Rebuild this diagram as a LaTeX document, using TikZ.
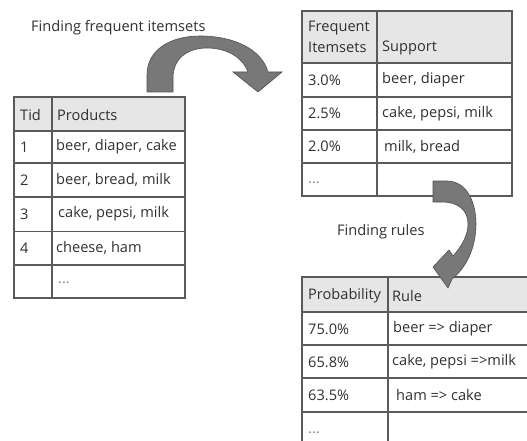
\documentclass[tikz,border=0pt]{standalone}
\usepackage{fontspec}
\setmainfont{Open Sans}
\definecolor{linec}{HTML}{5A5A5A}
\definecolor{headc}{HTML}{E6E6E6}
\definecolor{arrowc}{HTML}{787878}
\definecolor{arrowe}{HTML}{505050}
\definecolor{textc}{HTML}{303030}
\begin{document}
\begin{tikzpicture}[x=1pt,y=-1pt,
  tline/.style={draw=linec,line width=1.2pt},
  hfill/.style={fill=headc},
  txt/.style={anchor=west,inner sep=0pt,text=textc,font=\fontsize{14.6}{16}\selectfont},
  dots/.style={txt,text=gray},
  blockarrow/.style={fill=arrowc,draw=arrowe,line width=0.6pt}]
\useasboundingbox (0,0) rectangle (527,441);
% ---------- left table ----------
\fill[hfill] (14,97) rectangle (185,131);
\draw[tline] (14,97) rectangle (185,298);
\draw[tline] (52,97) -- (52,298);
\foreach \y in {131,163,197,231.5,265} \draw[tline] (14,\y) -- (185,\y);
\node[txt] (t0a) at (20,115) {Tid};
\node[txt] (t0b) at (57,115) {Products};
\node[txt] (t1a) at (20,147) {1};
\node[txt] (t1b) at (56,147) {beer, diaper, cake};
\node[txt] (t2a) at (20,180) {2};
\node[txt] (t2b) at (56,180) {beer, bread, milk};
\node[txt] (t3a) at (20,214) {3};
\node[txt] (t3b) at (58,214) {cake, pepsi, milk};
\node[txt] (t4a) at (20,248) {4};
\node[txt] (t4b) at (56,248) {cheese, ham};
\node[dots] (t5b) at (58,283) {...};
% ---------- top-right table ----------
\fill[hfill] (302,11) rectangle (512,63);
\draw[tline] (302,11) rectangle (512,196);
\draw[tline] (377,11) -- (377,196);
\foreach \y in {63,97,130,163} \draw[tline] (302,\y) -- (512,\y);
\node[txt] (f0a) at (308,28) {Frequent};
\node[txt] (f0c) at (308,47) {Itemsets};
\node[txt] (f0b) at (382,48) {Support};
\node[txt] (f1a) at (308,80) {3.0\%};
\node[txt] (f1b) at (382,80) {beer, diaper};
\node[txt] (f2a) at (308,113.5) {2.5\%};
\node[txt] (f2b) at (382,113.5) {cake, pepsi, milk};
\node[txt] (f3a) at (308,146.5) {2.0\%};
\node[txt] (f3b) at (384,146.5) {milk, bread};
\node[dots] (f4a) at (308,183) {...};
% ---------- bottom table ----------
\begin{scope}
\clip (0,0) rectangle (527,441);
\fill[hfill] (302,277) rectangle (540,312);
\draw[tline] (302,460) -- (302,277) -- (540,277);
\draw[tline] (388,277) -- (388,460);
\foreach \y in {312,345,378,412} \draw[tline] (302,\y) -- (540,\y);
\end{scope}
\node[txt] (r0a) at (308,296) {Probability};
\node[txt] (r0b) at (392,296) {Rule};
\node[txt] (r1a) at (308,329) {75.0\%};
\node[txt] (r1b) at (393,329) {beer => diaper};
\node[txt] (r2a) at (308,362) {65.8\%};
\node[txt] (r2b) at (392,362) {cake, pepsi =>milk};
\node[txt] (r3a) at (308,395.5) {63.5\%};
\node[txt] (r3b) at (396,395.5) {ham => cake};
\node[dots] (r4a) at (308,433) {...};
% ---------- labels ----------
\node[txt] (lab1) at (31,28) {Finding frequent itemsets};
\node[txt] (lab2) at (337,232) {Finding rules};
% ---------- curved arrows ----------
\draw[blockarrow] (147,92) -- (147,75)
  .. controls (147,50) and (170,36) .. (200,36)
  .. controls (235,36) and (262,50) .. (268,72)
  -- (282,72) -- (258,92) -- (233,72) -- (248,72)
  .. controls (242,56) and (225,48) .. (207,48)
  .. controls (188,48) and (173,58) .. (173,78)
  -- (173,92) -- cycle;
\draw[blockarrow] (433,181) -- (448,181)
  .. controls (468,182) and (476,204) .. (476,224)
  .. controls (476,248) and (466,268) .. (452,279)
  -- (448,288) -- (433,267) -- (449,250) -- (453,256)
  .. controls (462,246) and (468,235) .. (468,224)
  .. controls (468,210) and (458,202) .. (442,202)
  -- (433,202) -- cycle;
\end{tikzpicture}
\end{document}
